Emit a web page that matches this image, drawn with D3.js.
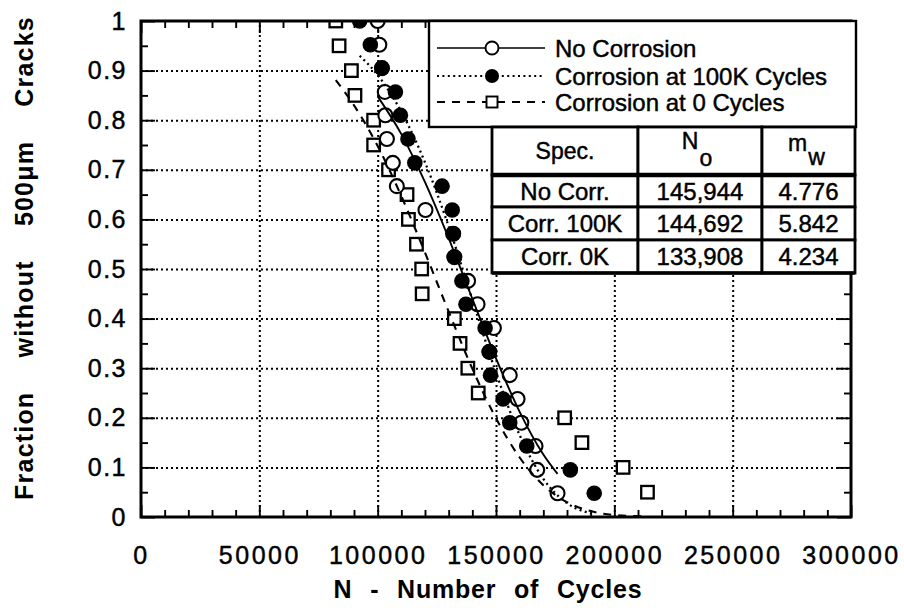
<!DOCTYPE html>
<html><head><meta charset="utf-8">
<script src="https://cdn.jsdelivr.net/npm/d3@7"></script>
<style>
html,body{margin:0;padding:0;background:#fff;}
svg{display:block;font-family:"Liberation Sans",Arial,Helvetica,sans-serif;}
</style></head><body>
<svg id="chart" width="904" height="610"></svg>
<script>
// ---------------- data ----------------
const xTickValues = [0, 50000, 100000, 150000, 200000, 250000, 300000];
const xTickLabels = ["0", "50000", "100000", "150000", "200000", "250000", "300000"];
const yTickValues = [0, 0.1, 0.2, 0.3, 0.4, 0.5, 0.6, 0.7, 0.8, 0.9, 1];
const yTickLabels = ["0", "0.1", "0.2", "0.3", "0.4", "0.5", "0.6", "0.7", "0.8", "0.9", "1"];

const seriesNames = ["No Corrosion", "Corrosion at 100K Cycles", "Corrosion at 0 Cycles"];

// No Corrosion (open circles)
const noCorrN = [100000, 100700, 101800, 103000, 103250, 103900, 106400, 108100, 120200, 131900, 132400,
                 138200, 142200, 149100, 147200, 155800, 159100, 160700, 166700, 167400, 176000];
const noCorrF = [1, 0.952, 0.905, 0.857, 0.810, 0.762, 0.714, 0.667, 0.619, 0.571, 0.524,
                 0.476, 0.429, 0.381, 0.333, 0.286, 0.238, 0.190, 0.143, 0.095, 0.048];
// Corrosion at 100K cycles (filled circles)
const corr100N = [92400, 96900, 101800, 107500, 109600, 112800, 115700, 127200, 131500, 131900, 132400,
                  135600, 137300, 145400, 147200, 147700, 153000, 155800, 163000, 181400, 191500];
const corr100F = [1, 0.952, 0.905, 0.857, 0.810, 0.762, 0.714, 0.667, 0.619, 0.571, 0.524,
                  0.476, 0.429, 0.381, 0.333, 0.286, 0.238, 0.190, 0.143, 0.095, 0.048];
// Corrosion at 0 cycles (open squares)
const corr0N = [82300, 83700, 88900, 90400, 98300, 98300, 104600, 112400, 113000, 116400,
                118600, 118800, 132400, 134800, 138100, 142500, 179000, 186300, 203700, 214000];
const corr0F = [1, 0.95, 0.9, 0.85, 0.8, 0.75, 0.7, 0.65, 0.6, 0.55,
                0.5, 0.45, 0.4, 0.35, 0.3, 0.25, 0.2, 0.15, 0.1, 0.05];

// fitted curves
const fitNoCorrN = [100000, 110000, 120000, 130000, 140000, 150000, 160000, 170000, 176000];
const fitNoCorrF = [0.848, 0.772, 0.675, 0.562, 0.440, 0.320, 0.212, 0.126, 0.087];
const fitCorr100N = [92400, 100000, 110000, 120000, 130000, 140000, 150000, 160000, 170000, 180000, 191500];
const fitCorr100F = [0.930, 0.891, 0.817, 0.715, 0.586, 0.438, 0.291, 0.165, 0.077, 0.028, 0.006];
const fitCorr0N = [82300, 90000, 100000, 110000, 120000, 130000, 140000, 150000, 160000, 170000, 180000, 190000, 200000, 214000];
const fitCorr0F = [0.881, 0.830, 0.748, 0.647, 0.533, 0.414, 0.299, 0.199, 0.120, 0.064, 0.030, 0.012, 0.004, 0.001];

// Weibull table
const tableSpecs = ["No Corr.", "Corr. 100K", "Corr. 0K"];
const tableN0 = [145944, 144692, 133908];
const tableMw = [4.776, 5.842, 4.234];

// ---------------- chart ----------------
const svg = d3.select("#chart");
const L = 141, R = 851, T = 21, B = 517;
const x = d3.scaleLinear().domain([0, 300000]).range([L, R]);
const y = d3.scaleLinear().domain([0, 1]).range([B, T]);
const TXT_STROKE = 0.45;

// gridlines
const gx = svg.append("g").attr("transform", `translate(0,${B})`)
  .call(d3.axisBottom(x).tickValues(xTickValues.slice(1, -1)).tickSize(-(B - T)).tickFormat(""));
const gy = svg.append("g").attr("transform", `translate(${L},0)`)
  .call(d3.axisLeft(y).tickValues(yTickValues.slice(1, -1)).tickSize(-(R - L)).tickFormat(""));
[gx, gy].forEach(g => {
  g.select(".domain").remove();
  g.selectAll("line").attr("stroke", "#000").attr("stroke-width", 2).attr("stroke-dasharray", "2,3");
});

// minor / major ticks (inward) on all four sides
const minorX = d3.range(0, 300001, 10000).filter(v => v % 50000 !== 0);
const minorY = d3.range(0.05, 1, 0.1);
function tickAxis(axis, tf, vals, size) {
  const g = svg.append("g").attr("transform", tf)
    .call(axis.tickValues(vals).tickSize(size).tickFormat(""));
  g.select(".domain").remove();
  g.selectAll("line").attr("stroke", "#000").attr("stroke-width", 1.9);
  return g;
}
tickAxis(d3.axisBottom(x), `translate(0,${B})`, minorX, -7);
tickAxis(d3.axisBottom(x), `translate(0,${B})`, xTickValues, -12);
tickAxis(d3.axisTop(x), `translate(0,${T})`, minorX, -7);
tickAxis(d3.axisTop(x), `translate(0,${T})`, xTickValues, -12);
tickAxis(d3.axisLeft(y), `translate(${L},0)`, minorY, -7);
tickAxis(d3.axisLeft(y), `translate(${L},0)`, yTickValues, -14);
tickAxis(d3.axisRight(y), `translate(${R},0)`, minorY, -7);
tickAxis(d3.axisRight(y), `translate(${R},0)`, yTickValues, -14);

// tick labels
const xl = svg.append("g").attr("transform", `translate(0,${B})`)
  .call(d3.axisBottom(x).tickValues(xTickValues).tickFormat((d, i) => xTickLabels[i]).tickSize(0).tickPadding(29));
xl.select(".domain").remove();
xl.selectAll("text").attr("font-size", 25).attr("font-family", "Liberation Sans, Arial, sans-serif")
  .attr("fill", "#000").attr("stroke", "#000").attr("stroke-width", TXT_STROKE)
  .attr("letter-spacing", 2.5).attr("dx", 0);
const yl = svg.append("g").attr("transform", `translate(${L},0)`)
  .call(d3.axisLeft(y).tickValues(yTickValues).tickFormat((d, i) => yTickLabels[i]).tickSize(0).tickPadding(14));
yl.select(".domain").remove();
yl.selectAll("text").attr("font-size", 25).attr("font-family", "Liberation Sans, Arial, sans-serif")
  .attr("fill", "#000").attr("stroke", "#000").attr("stroke-width", TXT_STROKE).attr("letter-spacing", 1.5);

// axis titles
svg.append("text").attr("transform", "translate(24,258) rotate(-90)")
  .attr("text-anchor", "middle").attr("dominant-baseline", "central")
  .attr("font-size", 25).attr("font-weight", "bold")
  .style("letter-spacing", "1.2px").style("word-spacing", "26px")
  .text("Fraction without 500\u03bcm Cracks");
svg.append("text").attr("x", 488).attr("y", 598)
  .attr("text-anchor", "middle")
  .attr("font-size", 25).attr("font-weight", "bold")
  .style("letter-spacing", "0.8px").style("word-spacing", "10px")
  .text("N - Number of Cycles");

// clip
svg.append("clipPath").attr("id", "plotclip").append("rect")
  .attr("x", L).attr("y", T).attr("width", R - L).attr("height", B - T);
const plot = svg.append("g").attr("clip-path", "url(#plotclip)");

const line = d3.line().x(d => x(d[0])).y(d => y(d[1])).curve(d3.curveMonotoneX);
const styles = [
  {dash: null, w: 1.9},
  {dash: "2,3.4", w: 2.3},
  {dash: "8,7", w: 2.1}
];

// markers
const sq = 12.5;
plot.selectAll("rect.sq").data(corr0N.map((n, i) => [n, corr0F[i]])).enter().append("rect")
  .attr("x", d => x(d[0]) - sq / 2).attr("y", d => y(d[1]) - sq / 2)
  .attr("width", sq).attr("height", sq).attr("fill", "#fff").attr("stroke", "#000").attr("stroke-width", 2.3);
plot.selectAll("circle.open").data(noCorrN.map((n, i) => [n, noCorrF[i]])).enter().append("circle")
  .attr("cx", d => x(d[0])).attr("cy", d => y(d[1])).attr("r", 7)
  .attr("fill", "#fff").attr("stroke", "#000").attr("stroke-width", 2.1);
plot.selectAll("circle.fill").data(corr100N.map((n, i) => [n, corr100F[i]])).enter().append("circle")
  .attr("cx", d => x(d[0])).attr("cy", d => y(d[1])).attr("r", 7.8)
  .attr("fill", "#000");

// fit curves
const fits = [
  fitNoCorrN.map((n, i) => [n, fitNoCorrF[i]]),
  fitCorr100N.map((n, i) => [n, fitCorr100F[i]]),
  fitCorr0N.map((n, i) => [n, fitCorr0F[i]])
];
fits.forEach((pts, k) => {
  plot.append("path").attr("d", line(pts)).attr("fill", "none").attr("stroke", "#000")
    .attr("stroke-width", styles[k].w).attr("stroke-dasharray", styles[k].dash);
});

// frame
svg.append("rect").attr("x", L).attr("y", T).attr("width", R - L).attr("height", B - T)
  .attr("fill", "none").attr("stroke", "#000").attr("stroke-width", 3);

// legend
const lg = svg.append("g");
lg.append("rect").attr("x", 429).attr("y", 21).attr("width", 427).attr("height", 106)
  .attr("fill", "#fff").attr("stroke", "#000").attr("stroke-width", 2.4);
const legY = [48, 76, 102];
seriesNames.forEach((name, k) => {
  lg.append("line").attr("x1", 437).attr("x2", 545).attr("y1", legY[k]).attr("y2", legY[k])
    .attr("stroke", "#000").attr("stroke-width", k === 0 ? 1.7 : 1.9).attr("stroke-dasharray", styles[k].dash);
  if (k === 0) lg.append("circle").attr("cx", 492).attr("cy", legY[k]).attr("r", 6.5)
    .attr("fill", "#fff").attr("stroke", "#000").attr("stroke-width", 1.9);
  if (k === 1) lg.append("circle").attr("cx", 492).attr("cy", legY[k]).attr("r", 7).attr("fill", "#000");
  if (k === 2) lg.append("rect").attr("x", 492 - 5.5).attr("y", legY[k] - 5.5).attr("width", 11).attr("height", 11)
    .attr("fill", "#fff").attr("stroke", "#000").attr("stroke-width", 1.9);
  lg.append("text").attr("x", 555).attr("y", legY[k]).attr("dy", "0.36em")
    .attr("font-size", 24).attr("stroke", "#000").attr("stroke-width", TXT_STROKE).text(name);
});

// table
const colX = [492, 638, 762, 855];
const rowY = [127, 175, 207, 240, 273];
const tb = svg.append("g");
for (let r = 0; r < 4; r++) {
  for (let c = 0; c < 3; c++) {
    tb.append("rect").attr("x", colX[c]).attr("y", rowY[r]).attr("width", colX[c + 1] - colX[c])
      .attr("height", rowY[r + 1] - rowY[r]).attr("fill", "#fff").attr("stroke", "#000").attr("stroke-width", 2.8);
  }
}
tb.append("line").attr("x1", colX[0]).attr("x2", colX[3]).attr("y1", rowY[1]).attr("y2", rowY[1])
  .attr("stroke", "#000").attr("stroke-width", 4.5);
tb.append("line").attr("x1", colX[0]).attr("x2", colX[3]).attr("y1", rowY[4]).attr("y2", rowY[4])
  .attr("stroke", "#000").attr("stroke-width", 3.6);
const cx = c => (colX[c] + colX[c + 1]) / 2;
const tstyle = sel => sel.attr("stroke", "#000").attr("stroke-width", TXT_STROKE);
tstyle(tb.append("text").attr("x", cx(0)).attr("y", 151).attr("dy", "0.36em").attr("text-anchor", "middle")
  .attr("font-size", 23).text("Spec."));
const hN = tstyle(tb.append("text").attr("x", cx(1) - 3).attr("y", 141).attr("dy", "0.36em").attr("text-anchor", "middle").attr("font-size", 23));
hN.append("tspan").text("N");
hN.append("tspan").attr("dy", 17).attr("dx", 1).text("o");
const hM = tstyle(tb.append("text").attr("x", cx(2) - 2).attr("y", 143).attr("dy", "0.36em").attr("text-anchor", "middle").attr("font-size", 23));
hM.append("tspan").text("m");
hM.append("tspan").attr("dy", 14).attr("dx", 1).text("w");
const fmtN = d3.format(","), fmtM = d3.format(".3f");
tableSpecs.forEach((s, r) => {
  const yy = (rowY[r + 1] + rowY[r + 2]) / 2;
  tstyle(tb.append("text").attr("x", cx(0)).attr("y", yy).attr("dy", "0.36em").attr("text-anchor", "middle").attr("font-size", 24).text(s));
  tstyle(tb.append("text").attr("x", cx(1)).attr("y", yy).attr("dy", "0.36em").attr("text-anchor", "middle").attr("font-size", 24).text(fmtN(tableN0[r])));
  tstyle(tb.append("text").attr("x", cx(2)).attr("y", yy).attr("dy", "0.36em").attr("text-anchor", "middle").attr("font-size", 24).text(fmtM(tableMw[r])));
});
</script>
</body></html>
